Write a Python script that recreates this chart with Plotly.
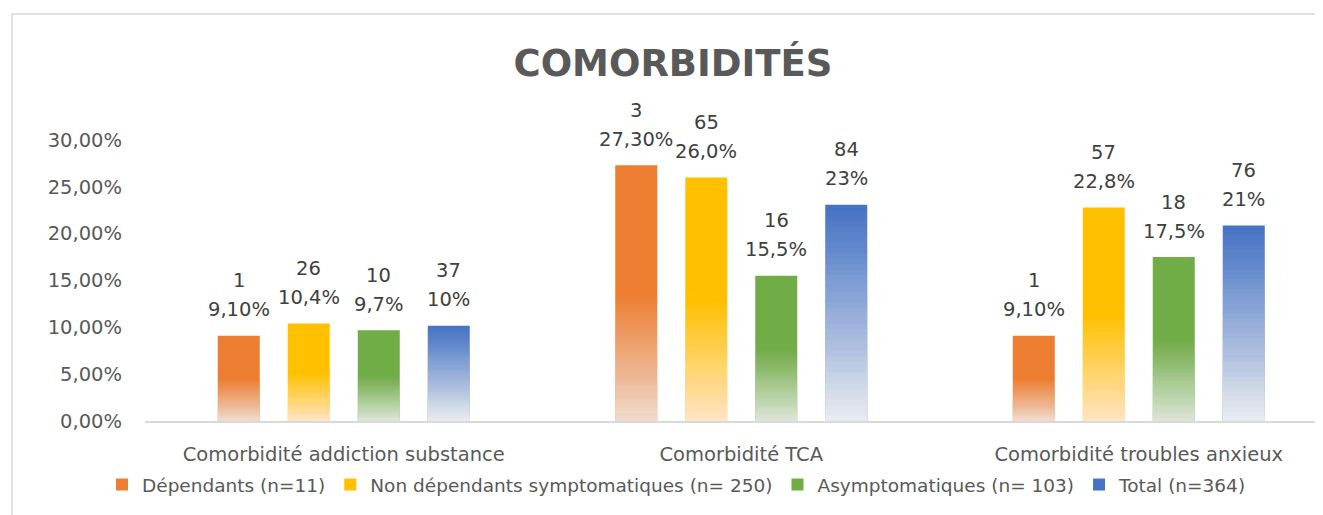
import plotly.graph_objects as go

categories = ["Comorbidité addiction substance", "Comorbidité TCA", "Comorbidité troubles anxieux"]

series_names = ["Dépendants (n=11)", "Non dépendants symptomatiques (n= 250)",
                "Asymptomatiques (n= 103)", "Total (n=364)"]
series_colors = ["#ED7D31", "#FFC000", "#70AD47", "#4472C4"]

dependants = [0.0910, 0.2730, 0.0910]
non_dependants = [0.104, 0.260, 0.228]
asymptomatiques = [0.097, 0.155, 0.175]
total = [0.1016, 0.2308, 0.2088]

dependants_n = ["1", "3", "1"]
non_dependants_n = ["26", "65", "57"]
asymptomatiques_n = ["10", "16", "18"]
total_n = ["37", "84", "76"]

dependants_pct = ["9,10%", "27,30%", "9,10%"]
non_dependants_pct = ["10,4%", "26,0%", "22,8%"]
asymptomatiques_pct = ["9,7%", "15,5%", "17,5%"]
total_pct = ["10%", "23%", "21%"]

values = [dependants, non_dependants, asymptomatiques, total]
counts = [dependants_n, non_dependants_n, asymptomatiques_n, total_n]
pcts = [dependants_pct, non_dependants_pct, asymptomatiques_pct, total_pct]

# styling for the fading gradient (fraction of bar faded, whiteness at bottom)
fade_frac = [0.5, 0.5, 0.5, 1.0]
fade_white = [0.82, 0.82, 0.85, 0.95]
N = 40

FONT = "DejaVu Sans"
FS = 19.5
fig = go.Figure()

for s in range(4):
    fig.add_trace(go.Bar(
        x=categories, y=values[s], name=series_names[s],
        marker=dict(color=series_colors[s], line=dict(width=0)),
        offsetgroup=str(s), hoverinfo="skip",
    ))
    W = fade_white[s]
    w = [W * (1 - (k - 0.5) / N) for k in range(1, N + 1)]
    ops = [0.0] * N
    for k in range(N - 1, -1, -1):
        nxt = w[k + 1] if k + 1 < N else 0.0
        ops[k] = 1 - (1 - w[k]) / (1 - nxt)
    for k in range(N):
        h = fade_frac[s] * (k + 1) / N
        fig.add_trace(go.Bar(
            x=categories, y=[v * h for v in values[s]],
            marker=dict(color="white", opacity=ops[k], line=dict(width=0)),
            offsetgroup=str(s), showlegend=False, hoverinfo="skip",
        ))

offsets = [-105, -35, 35, 105]
annotations = []
for s in range(4):
    for i, c in enumerate(categories):
        annotations.append(dict(x=c, y=values[s][i], xref="x", yref="y", text=pcts[s][i],
                                showarrow=False, xshift=offsets[s], yshift=26, yanchor="middle",
                                font=dict(family=FONT, size=FS, color="#404040")))
        annotations.append(dict(x=c, y=values[s][i], xref="x", yref="y", text=counts[s][i],
                                showarrow=False, xshift=offsets[s], yshift=55, yanchor="middle",
                                font=dict(family=FONT, size=FS, color="#404040")))

# page has an 8px body margin: figure coords = screen coords - 8
OFF = 8
FW, FH = 1323 - OFF, 515 - OFF
PL, PR, PT, PB = 145 - OFF, 1323 - OFF, 140 - OFF, 421 - OFF
pw, ph = PR - PL, PB - PT
def px(x): return (x - OFF - PL) / pw
def py(y): return (PB - (y - OFF)) / ph

fig.update_layout(
    width=FW, height=FH,
    margin=dict(l=PL, r=FW - PR, t=PT, b=FH - PB, pad=0, autoexpand=False),
    paper_bgcolor="white", plot_bgcolor="white",
    barmode="group", bargap=0.2956, bargroupgap=0.4,
    separators=", ",
    font=dict(family=FONT, size=FS, color="#595959"),
    title=dict(text="<b>COMORBIDITÉS</b>", x=(673 - OFF) / FW, xanchor="center",
               y=1 - (63 - OFF) / FH, yanchor="middle",
               font=dict(family=FONT, size=37, color="#595959")),
    xaxis=dict(range=[-0.5, -0.5 + pw / 397.5], showgrid=False, zeroline=False,
               showline=True, linecolor="#D9D9D9", linewidth=1.5, ticks="",
               ticklabelstandoff=15, tickfont=dict(family=FONT, size=FS, color="#595959")),
    yaxis=dict(range=[0, 0.30], dtick=0.05, tickformat=".2%", showgrid=False,
               zeroline=False, showline=False, ticks="", ticklabelstandoff=22,
               tickfont=dict(family=FONT, size=FS, color="#595959")),
    legend=dict(orientation="h", x=px(677), xanchor="center", y=py(466), yanchor="top",
                font=dict(family=FONT, size=18.5, color="#595959"), bgcolor="rgba(0,0,0,0)",
                traceorder="normal", itemwidth=30),
    annotations=annotations,
    shapes=[dict(type="path", xref="paper", yref="paper",
                 path=f"M {px(12)} {py(520)} L {px(12)} {py(14)} L {px(1330)} {py(14)}",
                 line=dict(color="#D9D9D9", width=1.5))],
    showlegend=True,
)

fig.write_html("out.html")
